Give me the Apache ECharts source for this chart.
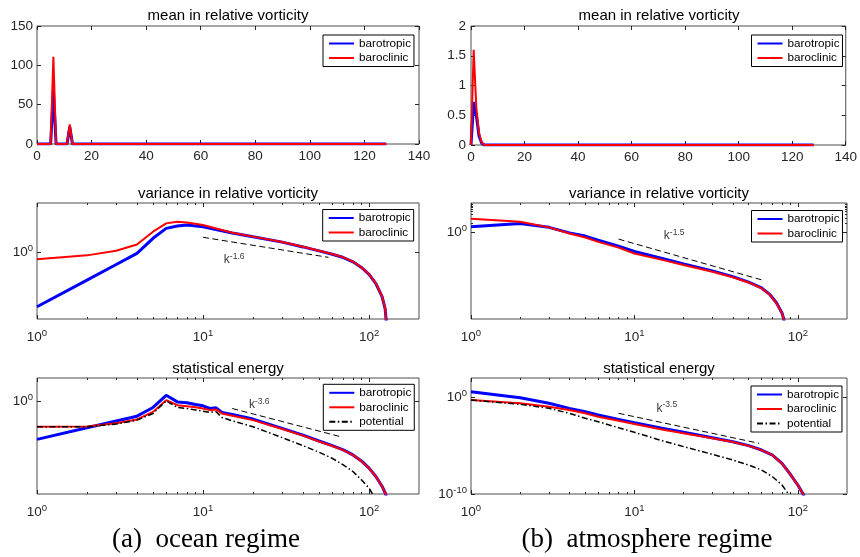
<!DOCTYPE html>
<html><head><meta charset="utf-8">
<script src="https://cdn.jsdelivr.net/npm/echarts@6/dist/echarts.min.js"></script>
<style>html,body{margin:0;padding:0;background:#fff}#c{width:860px;height:557px}</style>
</head><body><div id="c"></div><script>
// ---------------- data ----------------
const panelTitles = ['mean in relative vorticity', 'mean in relative vorticity',
  'variance in relative vorticity', 'variance in relative vorticity',
  'statistical energy', 'statistical energy'];
const captions = ['(a)  ocean regime', '(b)  atmosphere regime'];
const legendNames2 = ['barotropic', 'baroclinic'];
const legendNames3 = ['barotropic', 'baroclinic', 'potential'];

const logMajorX = [1, 10, 100];
const logMinorX = [2, 3, 4, 5, 6, 7, 8, 9, 20, 30, 40, 50, 60, 70, 80, 90];

// (a) top: mean in relative vorticity, ocean
const oceanMeanK = [0, 5, 6, 7, 11, 12, 13, 128];
const oceanMeanBarotropic = [0, 0, 68, 0, 0, 22, 0, 0];
const oceanMeanBaroclinic = [0, 0, 111, 0, 0, 25, 0, 0];

// (b) top: mean in relative vorticity, atmosphere
const atmMeanK = [0, 1, 2, 3, 4, 5, 128];
const atmMeanBarotropic = [0, 0.72, 0.5, 0.15, 0.03, 0, 0];
const atmMeanBaroclinic = [0, 1.6, 0.62, 0.2, 0.04, 0, 0];

// (a) middle: variance, ocean  (values given as log10 exponents)
const oceanVarK = [1, 2, 3, 4, 5, 6, 7, 8, 10, 15, 20, 30, 40, 50, 60, 70, 80, 90, 100, 110, 120, 125, 128];
const oceanVarBarotropicExp = [-3.26, -1.65, -0.71, -0.04, 0.87, 1.47, 1.61, 1.67, 1.57, 1.19, 0.96, 0.64, 0.35, 0.11, -0.09, -0.29, -0.55, -0.89, -1.31, -1.86, -2.67, -3.37, -4.5];
const oceanVarBaroclinicExp = [-0.40, -0.16, 0.12, 0.50, 1.27, 1.77, 1.87, 1.83, 1.67, 1.21, 0.97, 0.65, 0.36, 0.12, -0.08, -0.28, -0.54, -0.88, -1.30, -1.85, -2.66, -3.36, -4.5];
const oceanVarRefK = [10, 57];
const oceanVarRefExp = [0.93, -0.28];
const oceanVarSlope = ['-1.6'];
const oceanVarSlopeAt = [15.4, -0.44];

// (b) middle: variance, atmosphere
const atmVarK = [1, 2, 3, 4, 5, 6, 8, 10, 15, 20, 30, 40, 50, 60, 67, 74, 80, 82, 84];
const atmVarBarotropicExp = [0.18, 0.29, 0.16, -0.03, -0.14, -0.28, -0.49, -0.67, -0.92, -1.10, -1.34, -1.54, -1.73, -1.93, -2.14, -2.44, -2.79, -3.0, -3.5];
const atmVarBaroclinicExp = [0.46, 0.35, 0.16, -0.05, -0.19, -0.34, -0.54, -0.74, -0.97, -1.14, -1.37, -1.56, -1.74, -1.94, -2.15, -2.45, -2.8, -3.0, -3.5];
const atmVarRefK = [8, 60];
const atmVarRefExp = [-0.245, -1.65];
const atmVarSlope = ['-1.5'];
const atmVarSlopeAt = [17.5, -0.14];
const atmVarMinorY = [2, 3, 4, 5, 6, 7, 8, 9];

// (a) bottom: statistical energy, ocean
const oceanEnK = [1, 2, 3, 4, 5, 6, 7, 8, 9, 10, 11, 12, 13, 15, 20, 30, 40, 50, 60, 70, 80, 90, 100, 110, 120, 126, 128];
const oceanEnBarotropicExp = [-3.29, -2.29, -1.70, -1.29, -0.54, 0.51, -0.06, -0.14, -0.29, -0.40, -0.63, -0.57, -0.97, -1.14, -1.54, -2.34, -2.92, -3.43, -3.83, -4.20, -4.63, -5.15, -5.77, -6.49, -7.35, -8.0, -8.5];
const oceanEnBaroclinicExp = [-2.20, -2.18, -1.91, -1.57, -0.92, 0.09, -0.34, -0.43, -0.53, -0.63, -0.77, -0.71, -1.06, -1.26, -1.63, -2.40, -2.97, -3.47, -3.86, -4.22, -4.65, -5.17, -5.78, -6.50, -7.36, -8.0, -8.5];
const oceanEnPotK = [1, 2, 3, 4, 5, 6, 7, 8, 9, 10, 11, 12, 13, 15, 20, 30, 40, 50, 60, 70, 80, 90, 100, 105, 108];
const oceanEnPotentialExp = [-2.20, -2.20, -1.97, -1.63, -1.06, 0.03, -0.54, -0.63, -0.75, -0.86, -0.97, -0.91, -1.40, -1.69, -2.20, -3.14, -3.83, -4.40, -4.92, -5.49, -6.06, -6.78, -7.49, -8.0, -8.5];
const oceanEnRefK = [15, 69];
const oceanEnRefExp = [-0.63, -3.1];
const oceanEnSlope = ['-3.6'];
const oceanEnSlopeAt = [21.8, -0.34];

// (b) bottom: statistical energy, atmosphere
const atmEnK = [1, 2, 3, 4, 5, 6, 8, 10, 15, 20, 30, 40, 50, 60, 70, 80, 90, 100, 108, 110];
const atmEnBarotropicExp = [0.58, -0.04, -0.62, -1.14, -1.49, -1.83, -2.28, -2.63, -3.21, -3.62, -4.18, -4.59, -5.0, -5.45, -5.97, -6.83, -7.96, -9.07, -10.03, -10.5];
const atmEnBaroclinicExp = [-0.28, -0.62, -0.97, -1.31, -1.65, -2.0, -2.42, -2.76, -3.35, -3.72, -4.24, -4.62, -5.02, -5.46, -5.98, -6.84, -7.97, -9.08, -10.03, -10.5];
const atmEnPotK = [1, 2, 3, 4, 5, 6, 8, 10, 15, 20, 30, 40, 50, 60, 70, 80, 88, 90];
const atmEnPotentialExp = [-0.28, -0.72, -1.14, -1.65, -2.17, -2.52, -3.14, -3.62, -4.52, -5.10, -5.90, -6.48, -7.0, -7.52, -8.21, -9.07, -10.03, -10.5];
const atmEnRefK = [8, 58];
const atmEnRefExp = [-1.65, -4.76];
const atmEnSlope = ['-3.5'];
const atmEnSlopeAt = [15.8, -1.14];

// ---------------- chart construction ----------------
const FONT = '"Liberation Sans", Arial, Helvetica, sans-serif';
const AX = '#262626';
const BLUE = '#0000ff', RED = '#ff0000', BLACK = '#000000';

const grids = [
  { left: 37, top: 26, width: 382, height: 118 },
  { left: 471, top: 26, width: 376, height: 119 },
  { left: 37, top: 203, width: 382, height: 116 },
  { left: 471, top: 203, width: 376, height: 116 },
  { left: 37, top: 378, width: 382, height: 116 },
  { left: 471, top: 378, width: 376, height: 116 }
].map(g => Object.assign(g, { show: true, borderColor: '#4d4d4d', borderWidth: 1, backgroundColor: '#fff', containLabel: false }));

const xAxes = [], yAxes = [], series = [], legends = [], graphics = [];
const pow10 = arr => arr.map(e => Math.pow(10, e));
const pairs = (xs, ys) => xs.map((x, i) => [x, ys[i]]);

function supLabel(v) { const e = Math.round(Math.log10(v)); return '{b|10}{s|' + e + '}'; }
const supRich = {
  b: { fontSize: 13.5, fontFamily: FONT, color: AX, lineHeight: 18 },
  s: { fontSize: 9.5, fontFamily: FONT, color: AX, lineHeight: 11, verticalAlign: 'top' }
};

function addAxes(list, gi, dim, spec) {
  const pos = dim === 'x' ? ['bottom', 'top'] : ['left', 'right'];
  const base = { gridIndex: gi, type: spec.type, min: spec.min, max: spec.max,
    axisLine: { show: false, onZero: false }, splitLine: { show: false }, minorTick: { show: false } };
  if (spec.interval) base.interval = spec.interval;
  if (spec.type === 'log') base.logBase = 10;
  const mainIdx = list.length;
  const tick = { show: true, inside: true, length: 4, lineStyle: { color: AX, width: 1 } };
  if (spec.major) tick.customValues = spec.major;
  const label = { show: true, color: AX, fontFamily: FONT, fontSize: 13.5, margin: spec.margin, hideOverlap: false };
  if (spec.major) { label.customValues = spec.major; label.formatter = supLabel; label.rich = supRich; }
  list.push(Object.assign({}, base, { position: pos[0], axisTick: tick, axisLabel: label }));
  list.push(Object.assign({}, base, { position: pos[1], axisTick: tick, axisLabel: { show: false } }));
  if (spec.minor) {
    const mt = { show: true, inside: true, length: 2, customValues: spec.minor, lineStyle: { color: AX, width: 1 } };
    list.push(Object.assign({}, base, { position: pos[0], axisTick: mt, axisLabel: { show: false } }));
    list.push(Object.assign({}, base, { position: pos[1], axisTick: mt, axisLabel: { show: false } }));
  }
  return mainIdx;
}

const panels = [
  { x: { type: 'value', min: 0, max: 140, interval: 20, margin: 5 }, y: { type: 'value', min: 0, max: 150, interval: 50, margin: 4 } },
  { x: { type: 'value', min: 0, max: 140, interval: 20, margin: 5 }, y: { type: 'value', min: 0, max: 2, interval: 0.5, margin: 5 } },
  { x: { type: 'log', min: 1, max: 200, major: logMajorX, minor: logMinorX, margin: 9 }, y: { type: 'log', min: 1e-4, max: 1e3, major: [1], margin: 4 } },
  { x: { type: 'log', min: 1, max: 200, major: logMajorX, minor: logMinorX, margin: 9 }, y: { type: 'log', min: 1e-3, max: 1e1, major: [1], minor: atmVarMinorY, margin: 4 } },
  { x: { type: 'log', min: 1, max: 200, major: logMajorX, minor: logMinorX, margin: 9 }, y: { type: 'log', min: 1e-8, max: 1e2, major: [1], margin: 4 } },
  { x: { type: 'log', min: 1, max: 200, major: logMajorX, minor: logMinorX, margin: 9 }, y: { type: 'log', min: 1e-10, max: 1e2, major: [1e-10, 1], margin: 4 } }
];
const xMain = [], yMain = [];
panels.forEach((p, gi) => { xMain.push(addAxes(xAxes, gi, 'x', p.x)); yMain.push(addAxes(yAxes, gi, 'y', p.y)); });

const styles = {
  barotropic: { color: BLUE, width: 3 },
  baroclinic: { color: RED, width: 2 },
  potential: { color: BLACK, width: 1.5, type: [6, 2.5, 1.5, 2.5] },
  ref: { color: BLACK, width: 1, type: [6, 3.5] }
};
function addLine(gi, name, data, st) {
  series.push({ type: 'line', name: name, xAxisIndex: xMain[gi], yAxisIndex: yMain[gi], data: data,
    symbol: 'none', showSymbol: false, lineStyle: st, itemStyle: { color: st.color },
    silent: true, animation: false, clip: true });
}
function addSlopeLabel(gi, at, txt) {
  series.push({ type: 'scatter', xAxisIndex: xMain[gi], yAxisIndex: yMain[gi],
    data: [[at[0], Math.pow(10, at[1])]], symbolSize: 1, itemStyle: { color: 'rgba(0,0,0,0)' }, silent: true,
    label: { show: true, position: 'inside', formatter: '{k|k}{s|' + txt + '}',
      rich: { k: { fontSize: 12, lineHeight: 16, fontFamily: FONT, color: '#000' },
              s: { fontSize: 8.5, lineHeight: 10, verticalAlign: 'top', fontFamily: FONT, color: '#000' } } } });
}

// panel 0
addLine(0, 'barotropic', pairs(oceanMeanK, oceanMeanBarotropic), styles.barotropic);
addLine(0, 'baroclinic', pairs(oceanMeanK, oceanMeanBaroclinic), styles.baroclinic);
// panel 1
addLine(1, 'barotropic', pairs(atmMeanK, atmMeanBarotropic), styles.barotropic);
addLine(1, 'baroclinic', pairs(atmMeanK, atmMeanBaroclinic), styles.baroclinic);
// panel 2
addLine(2, 'barotropic', pairs(oceanVarK, pow10(oceanVarBarotropicExp)), styles.barotropic);
addLine(2, 'baroclinic', pairs(oceanVarK, pow10(oceanVarBaroclinicExp)), styles.baroclinic);
addLine(2, 'ref', pairs(oceanVarRefK, pow10(oceanVarRefExp)), styles.ref);
addSlopeLabel(2, oceanVarSlopeAt, oceanVarSlope[0]);
// panel 3
addLine(3, 'barotropic', pairs(atmVarK, pow10(atmVarBarotropicExp)), styles.barotropic);
addLine(3, 'baroclinic', pairs(atmVarK, pow10(atmVarBaroclinicExp)), styles.baroclinic);
addLine(3, 'ref', pairs(atmVarRefK, pow10(atmVarRefExp)), styles.ref);
addSlopeLabel(3, atmVarSlopeAt, atmVarSlope[0]);
// panel 4
addLine(4, 'barotropic', pairs(oceanEnK, pow10(oceanEnBarotropicExp)), styles.barotropic);
addLine(4, 'baroclinic', pairs(oceanEnK, pow10(oceanEnBaroclinicExp)), styles.baroclinic);
addLine(4, 'potential', pairs(oceanEnPotK, pow10(oceanEnPotentialExp)), styles.potential);
addLine(4, 'ref', pairs(oceanEnRefK, pow10(oceanEnRefExp)), styles.ref);
addSlopeLabel(4, oceanEnSlopeAt, oceanEnSlope[0]);
// panel 5
addLine(5, 'barotropic', pairs(atmEnK, pow10(atmEnBarotropicExp)), styles.barotropic);
addLine(5, 'baroclinic', pairs(atmEnK, pow10(atmEnBaroclinicExp)), styles.baroclinic);
addLine(5, 'potential', pairs(atmEnPotK, pow10(atmEnPotentialExp)), styles.potential);
addLine(5, 'ref', pairs(atmEnRefK, pow10(atmEnRefExp)), styles.ref);
addSlopeLabel(5, atmEnSlopeAt, atmEnSlope[0]);

// legends
const legendPos = [[323, 35], [751.5, 35], [322.7, 209.5], [751.5, 210.5], [323.3, 384.3], [751, 386]];
legendPos.forEach((lp, i) => {
  legends.push({ show: true, orient: 'vertical', left: lp[0], top: lp[1],
    data: i >= 4 ? legendNames3 : legendNames2, itemWidth: 25, itemHeight: 12, itemGap: 2.5,
    padding: [2.5, 3, 2.5, 5], borderColor: '#000', borderWidth: 1, borderRadius: 0, backgroundColor: '#fff',
    itemStyle: { color: 'rgba(0,0,0,0)', borderWidth: 0, opacity: 0 },
    selectedMode: false, textStyle: { fontSize: 11.7, fontFamily: FONT, color: '#000' } });
});

// titles and captions
const titlePos = [[228, 16], [659, 16], [228, 194], [659, 194], [228, 368.5], [659, 368.5]];
panelTitles.forEach((t, i) => {
  graphics.push({ type: 'text', x: titlePos[i][0], y: titlePos[i][1], silent: true,
    style: { text: t, font: '15px ' + FONT, fill: '#000', align: 'center', verticalAlign: 'middle',
      textAlign: 'center', textVerticalAlign: 'middle' } });
});
const captionPos = [[206, 540], [647, 540]];
captions.forEach((t, i) => {
  graphics.push({ type: 'text', x: captionPos[i][0], y: captionPos[i][1], silent: true,
    style: { text: t, font: '27px "Liberation Serif", "Times New Roman", serif', fill: '#000',
      align: 'center', verticalAlign: 'middle', textAlign: 'center', textVerticalAlign: 'middle' } });
});

const chart = echarts.init(document.getElementById('c'), null, { renderer: 'canvas' });
chart.setOption({
  animation: false,
  backgroundColor: '#fff',
  grid: grids,
  xAxis: xAxes,
  yAxis: yAxes,
  legend: legends,
  series: series,
  graphic: graphics
});
</script></body></html>
